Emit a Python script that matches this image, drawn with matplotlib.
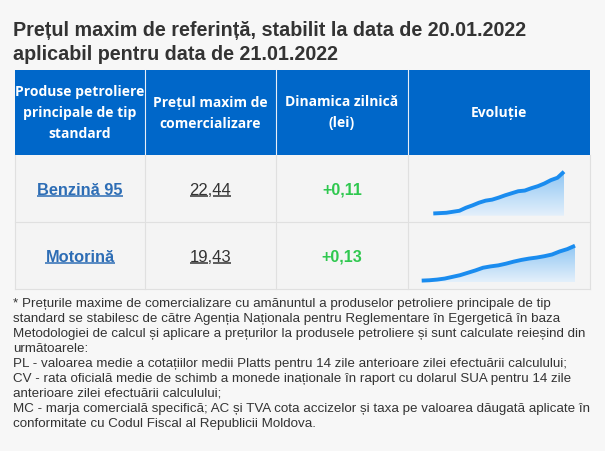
import numpy as np
import matplotlib.pyplot as plt
from matplotlib.colors import LinearSegmentedColormap

W, H = 605, 451

title_lines = ["Prețul maxim de referință, stabilit la data de 20.01.2022",
               "aplicabil pentru data de 21.01.2022"]
headers = [["Produse petroliere", "principale de tip", "standard"],
           ["Prețul maxim de", "comercializare"],
           ["Dinamica zilnică", "(lei)"],
           ["Evoluție"]]
products = ["Benzină 95", "Motorină"]
prices = ["22,44", "19,43"]
changes = ["+0,11", "+0,13"]

# evolutia pretului
benzina_trend = [21.20, 21.21, 21.22, 21.25, 21.28, 21.37, 21.44, 21.52, 21.58, 21.61, 21.67,
                 21.74, 21.80, 21.86, 21.88, 21.95, 22.01, 22.09, 22.19, 22.26, 22.44]
motorina_trend = [18.40, 18.41, 18.43, 18.46, 18.51, 18.56, 18.63, 18.70, 18.78, 18.82, 18.85,
                  18.90, 18.96, 19.01, 19.05, 19.08, 19.12, 19.17, 19.26, 19.33, 19.43]
trends = [benzina_trend, motorina_trend]

footnote = ["* Prețurile maxime de comercializare cu amănuntul a produselor petroliere principale de tip",
            "standard se stabilesc de către Agenția Naționala pentru Reglementare în Egergetică în baza",
            "Metodologiei de calcul și aplicare a prețurilor la produsele petroliere și sunt calculate reieșind din",
            "următoarele:",
            "PL - valoarea medie a cotațiilor medii Platts pentru 14 zile anterioare zilei efectuării calculului;",
            "CV - rata oficială medie de schimb a monede inaționale în raport cu dolarul SUA pentru 14 zile",
            "anterioare zilei efectuării calculului;",
            "MC - marja comercială specifică; AC și TVA cota accizelor și taxa pe valoarea dăugată aplicate în",
            "conformitate cu Codul Fiscal al Republicii Moldova."]

# geometrie tabel (pixeli)
cols = [15, 145, 276, 408, 590]
head_top, head_bot = 70, 155
rows = [(155, 222), (222, 289)]
spark_rects = [(433.3, 171.7, 564, 215.7), (421.7, 245.7, 575, 282.3)]
spark_lo = [21.133, 18.35]

bg = '#f7f7f7'
blue = '#0067c9'
dark = '#333333'

fig = plt.figure(figsize=(W / 100, H / 100), dpi=100, facecolor=bg)
ax = fig.add_axes([0, 0, 1, 1])
ax.set_xlim(0, W)
ax.set_ylim(H, 0)
ax.axis('off')

sans = 'Liberation Sans'
ax.text(13, 36.5, title_lines[0], fontsize=14.2, fontweight='bold', color=dark, family=sans, va='baseline')
ax.text(13, 60, title_lines[1], fontsize=14.2, fontweight='bold', color=dark, family=sans, va='baseline')

# antet
ax.add_patch(plt.Rectangle((cols[0], head_top), cols[-1] - cols[0], head_bot - head_top, color=blue, lw=0))
for i in range(1, 4):
    ax.plot([cols[i], cols[i]], [head_top, head_bot], color='#e8eef7', lw=0.8)
for i, lines in enumerate(headers):
    cx = (cols[i] + cols[i + 1]) / 2
    n = len(lines)
    cy = (head_top + head_bot) / 2 + 0.5
    for k, s in enumerate(lines):
        y = cy + (k - (n - 1) / 2) * 21
        ax.text(cx, y, s, fontsize=10.0, fontweight='bold', color='white', family='Open Sans',
                ha='center', va='center')

# randuri
for r, (y0, y1) in enumerate(rows):
    ax.add_patch(plt.Rectangle((cols[0], y0), cols[-1] - cols[0], y1 - y0, facecolor='#f4f4f4', lw=0))
    ax.plot([cols[0], cols[-1]], [y1, y1], color='#e0e0e0', lw=0.8)
for x in cols:
    ax.plot([x, x], [head_bot, rows[-1][1]], color='#e0e0e0', lw=0.8)

fig.canvas.draw()
renderer = fig.canvas.get_renderer()


def width_of(s, **kw):
    t = ax.text(0, 0, s, **kw)
    bb = t.get_window_extent(renderer)
    t.remove()
    return bb.width


def underline(x0, x1, y, color):
    ax.plot([x0, x1], [y, y], color=color, lw=1.1, solid_capstyle='butt')


for r, (y0, y1) in enumerate(rows):
    cy = (y0 + y1) / 2 + 0.3
    base = cy + 5.8
    kw = dict(fontsize=11.8, fontweight='bold', family=sans)
    cx = (cols[0] + cols[1]) / 2
    ax.text(cx, base, products[r], color='#2d6db5', ha='center', va='baseline', **kw)
    w = width_of(products[r], **kw)
    underline(cx - w / 2, cx + w / 2, base + 1.8, '#2d6db5')

    kw2 = dict(fontsize=12, family=sans)
    cx = (cols[1] + cols[2]) / 2
    ax.text(cx, base, prices[r], color=dark, ha='center', va='baseline', **kw2)
    wf = width_of(prices[r], **kw2)
    a, b = prices[r].split(',')
    wa = width_of(a, **kw2)
    wac = width_of(a + ',', **kw2)
    underline(cx - wf / 2, cx - wf / 2 + wa, base + 1.8, dark)
    underline(cx - wf / 2 + wac, cx + wf / 2, base + 1.8, dark)

    cx = (cols[2] + cols[3]) / 2
    ax.text(cx, base, changes[r], color='#2fc84f', ha='center', va='baseline', fontsize=11.6,
            fontweight='bold', family=sans)

# grafice evolutie
cmap = LinearSegmentedColormap.from_list('g', ['#e4f0fb', '#8fc6f3'])
for r, vals in enumerate(trends):
    x0, y0, x1, y1 = spark_rects[r]
    sax = fig.add_axes([x0 / W, 1 - y1 / H, (x1 - x0) / W, (y1 - y0) / H])
    xs = np.arange(len(vals))
    lo, hi = spark_lo[r], max(vals)
    sax.set_xlim(0, len(vals) - 1)
    sax.set_ylim(lo, hi)
    sax.axis('off')
    poly = sax.fill_between(xs, vals, lo, color='none', lw=0)
    grad = np.linspace(0, 1, 256).reshape(-1, 1)
    im = sax.imshow(grad, cmap=cmap, extent=[0, len(vals) - 1, lo, hi], aspect='auto', origin='lower')
    im.set_clip_path(poly.get_paths()[0], transform=sax.transData)
    sax.plot(xs, vals, color='#1a8cef', lw=2.8, clip_on=False, solid_capstyle='butt')

# nota
for k, s in enumerate(footnote):
    ax.text(13, 304 + k * 15, s, fontsize=9.6, color=dark, family=sans, va='center')

fig.savefig('out.png', dpi=100, facecolor=bg)
